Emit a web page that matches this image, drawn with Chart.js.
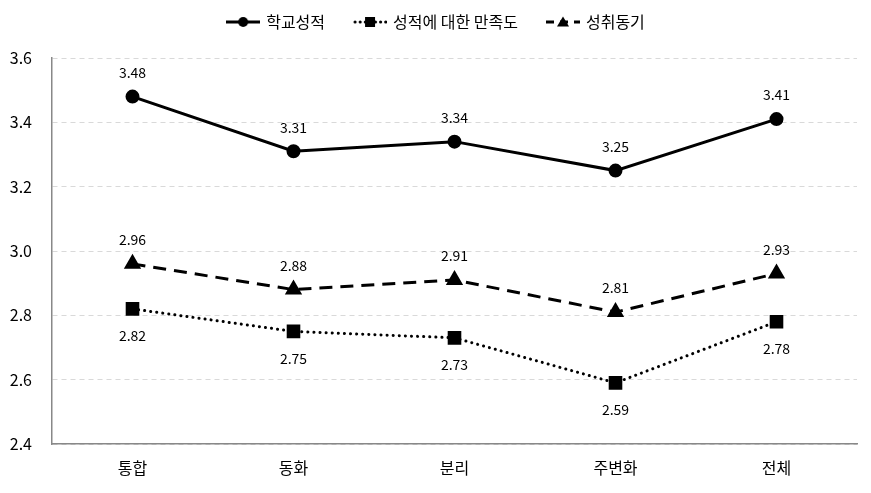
<!DOCTYPE html>
<html>
<head>
<meta charset="utf-8">
<script src="https://cdn.jsdelivr.net/npm/chart.js@4/dist/chart.umd.min.js"></script>
<style>
  html, body { margin: 0; padding: 0; background: #fff; }
  #wrap { width: 871px; height: 493px; position: relative; }
</style>
</head>
<body>
<div id="wrap"><canvas id="lineChart"></canvas></div>
<script>
// data
const categories = ['통합', '동화', '분리', '주변화', '전체'];
const seriesNames = ['학교성적', '성적에 대한 만족도', '성취동기'];
const schoolGrades = [3.48, 3.31, 3.34, 3.25, 3.41];
const gradeSatisfaction = [2.82, 2.75, 2.73, 2.59, 2.78];
const achievementMotivation = [2.96, 2.88, 2.91, 2.81, 2.93];
const yTicks = [2.4, 2.6, 2.8, 3.0, 3.2, 3.4, 3.6];

const FONT = "'Malgun Gothic', 'Noto Sans CJK KR', sans-serif";

// small canvas used as legend sample (line + marker)
function legendSample(dash, marker) {
    const c = document.createElement('canvas');
    c.width = 34; c.height = 14;
    const g = c.getContext('2d');
    g.strokeStyle = '#000';
    g.fillStyle = '#000';
    g.lineWidth = 3;
    g.lineCap = dash === 'dot' ? 'round' : 'butt';
    g.setLineDash(dash === 'dot' ? [0.1, 5] : dash === 'dash' ? [8, 6] : []);
    g.beginPath();
    g.moveTo(dash === 'dot' ? 2 : 0, 7);
    g.lineTo(34, 7);
    g.stroke();
    g.setLineDash([]);
    g.beginPath();
    if (marker === 'circle') {
        g.arc(17, 7, 5, 0, Math.PI * 2);
    } else if (marker === 'rect') {
        g.rect(12, 2, 10, 10);
    } else {
        g.moveTo(17, 1.5); g.lineTo(23, 11.5); g.lineTo(11, 11.5); g.closePath();
    }
    g.fill();
    return c;
}

const legendImages = [
    legendSample('solid', 'circle'),
    legendSample('dot', 'rect'),
    legendSample('dash', 'triangle')
];

// value labels above / below the points
const valueLabels = {
    id: 'valueLabels',
    afterDatasetsDraw(chart) {
        const ctx = chart.ctx;
        ctx.save();
        ctx.font = '14px ' + FONT;
        ctx.fillStyle = '#000';
        ctx.textAlign = 'center';
        ctx.textBaseline = 'middle';
        chart.data.datasets.forEach((ds, i) => {
            const meta = chart.getDatasetMeta(i);
            meta.data.forEach((pt, j) => {
                const off = i === 1 ? 27 : -24;
                ctx.fillText(ds.data[j].toFixed(2), pt.x, pt.y + off);
            });
        });
        ctx.restore();
    }
};

// legend drawn at the top, centred
const topLegend = {
    id: 'topLegend',
    afterDraw(chart) {
        const ctx = chart.ctx;
        ctx.save();
        ctx.font = '16px ' + FONT;
        ctx.fillStyle = '#000';
        ctx.textBaseline = 'middle';
        const gap = 6, pad = 28, sampleW = 34;
        const widths = seriesNames.map(n => sampleW + gap + ctx.measureText(n).width);
        const total = widths.reduce((a, b) => a + b, 0) + pad * (widths.length - 1);
        let x = (chart.width - total) / 2;
        const y = 22;
        seriesNames.forEach((n, i) => {
            ctx.drawImage(legendImages[i], x, y - 7);
            ctx.fillText(n, x + sampleW + gap, y);
            x += widths[i] + pad;
        });
        ctx.restore();
    }
};

new Chart(document.getElementById('lineChart'), {
    type: 'line',
    data: {
        labels: categories,
        datasets: [{
            label: seriesNames[0],
            data: schoolGrades,
            borderColor: '#000',
            backgroundColor: '#000',
            borderWidth: 3,
            pointStyle: 'circle',
            pointRadius: 5.5,
            tension: 0
        }, {
            label: seriesNames[1],
            data: gradeSatisfaction,
            borderColor: '#000',
            backgroundColor: '#000',
            borderWidth: 3,
            borderDash: [0.1, 6],
            borderCapStyle: 'round',
            pointStyle: 'rect',
            pointRadius: 7.5,
            tension: 0
        }, {
            label: seriesNames[2],
            data: achievementMotivation,
            borderColor: '#000',
            backgroundColor: '#000',
            borderWidth: 3,
            borderDash: [13, 8],
            pointStyle: 'triangle',
            pointRadius: 7,
            tension: 0
        }]
    },
    options: {
        responsive: true,
        maintainAspectRatio: false,
        animation: false,
        layout: {
            padding: { top: 58, right: 14, left: 0, bottom: 0 }
        },
        plugins: {
            legend: { display: false },
            tooltip: { enabled: false }
        },
        scales: {
            x: {
                offset: true,
                grid: { color: 'rgba(0,0,0,0)', drawTicks: false },
                border: { display: true, color: '#888', width: 1.5 },
                ticks: { color: '#000', font: { size: 16, family: FONT }, padding: 14 },
                afterFit(scale) { scale.height = 49; }
            },
            y: {
                min: 2.4,
                max: 3.6,
                afterBuildTicks(scale) { scale.ticks = yTicks.map(v => ({ value: v })); },
                grid: { color: '#d9d9d9', lineWidth: 1, drawTicks: false },
                border: { display: true, color: '#888', width: 1.5, dash: [5, 4] },
                ticks: {
                    color: '#000',
                    font: { size: 16, family: FONT },
                    padding: 20,
                    callback: v => v.toFixed(1)
                },
                afterFit(scale) { scale.width = 52; }
            }
        }
    },
    plugins: [valueLabels, topLegend]
});
</script>
</body>
</html>
